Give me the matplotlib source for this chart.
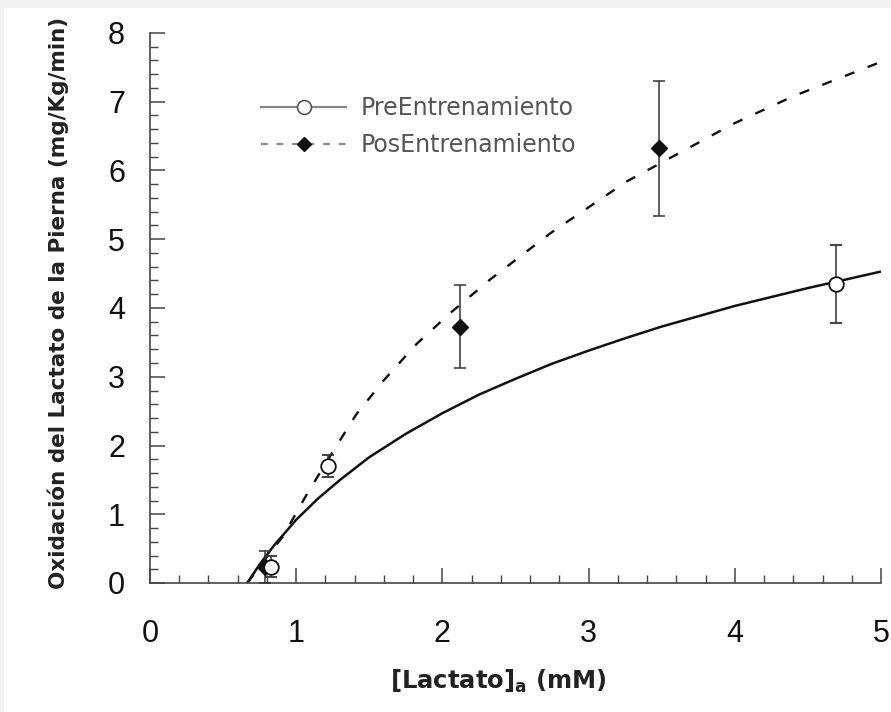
import matplotlib
matplotlib.use("Agg")
import matplotlib.pyplot as plt
from matplotlib.lines import Line2D
from matplotlib.patches import Rectangle
from matplotlib.ticker import MultipleLocator

# Measured points (mean ± error)
pre_x = [0.83, 1.22, 4.69]
pre_y = [0.24, 1.70, 4.35]
pre_err = [0.15, 0.16, 0.57]

pos_x = [0.79, 2.12, 3.48]
pos_y = [0.23, 3.73, 6.32]
pos_err = [0.23, 0.60, 0.98]

# Fitted curves
pre_fit_x = [0.665, 0.75, 0.85, 1.0, 1.15, 1.3, 1.5, 1.75, 2.0, 2.25, 2.5,
             2.75, 3.0, 3.25, 3.5, 3.75, 4.0, 4.25, 4.5, 4.75, 5.0]
pre_fit_y = [0.0, 0.27, 0.55, 0.92, 1.23, 1.50, 1.83, 2.17, 2.47, 2.74, 2.97,
             3.19, 3.38, 3.56, 3.73, 3.88, 4.03, 4.16, 4.29, 4.41, 4.53]

pos_fit_x = [0.665, 0.80, 0.91, 1.07, 1.23, 1.41, 1.60, 1.82, 2.05, 2.33,
             2.74, 3.26, 3.53, 3.99, 4.40, 5.0]
pos_fit_y = [0.0, 0.38, 0.68, 1.28, 1.84, 2.45, 2.95, 3.47, 3.92, 4.42,
             5.09, 5.84, 6.15, 6.68, 7.08, 7.58]

x_ticks = [0, 1, 2, 3, 4, 5]
y_ticks = [0, 1, 2, 3, 4, 5, 6, 7, 8]

series_labels = ["PreEntrenamiento", "PosEntrenamiento"]
x_label = r"[Lactato]$_{\mathbf{a}}$ (mM)"
y_label = "Oxidación del Lactato de la Pierna (mg/Kg/min)"

W, H, DPI = 891, 712, 100
fig = plt.figure(figsize=(W / DPI, H / DPI), dpi=DPI, facecolor="#f2f2f2")
fig.patches.append(Rectangle((4 / W, 0), 1 - 4 / W, 1 - 8 / H,
                             transform=fig.transFigure, facecolor="white",
                             edgecolor="none", zorder=-10))

ax = fig.add_axes([150 / W, (H - 583) / H, (881 - 150) / W, (583 - 33) / H])
ax.set_facecolor("none")

ink = "#111111"
ax.plot(pre_fit_x, pre_fit_y, color=ink, lw=1.8, solid_capstyle="butt", zorder=2)
ax.plot(pos_fit_x, pos_fit_y, color=ink, lw=1.7, linestyle=(0, (4.3, 6.0)),
        zorder=2)

ax.errorbar(pos_x, pos_y, yerr=pos_err, fmt="D", ms=8, mfc=ink, mec=ink,
            ecolor="#333333", elinewidth=1.1, capsize=4.5, capthick=1.1,
            zorder=3)
ax.errorbar(pre_x, pre_y, yerr=pre_err, fmt="o", ms=10.5, mfc="white",
            mec=ink, mew=1.3, ecolor="#333333", elinewidth=1.1, capsize=4.5,
            capthick=1.1, zorder=4)

ax.set_xlim(0, 5)
ax.set_ylim(0, 8)
ax.set_xticks(x_ticks)
ax.set_yticks(y_ticks)
ax.xaxis.set_minor_locator(MultipleLocator(0.2))
ax.yaxis.set_minor_locator(MultipleLocator(0.2))

for side in ("top", "right"):
    ax.spines[side].set_visible(False)
for side in ("left", "bottom"):
    ax.spines[side].set_color("#444444")
    ax.spines[side].set_linewidth(1.2)

ax.tick_params(which="major", direction="in", length=11, width=1.1,
               color="#444444", labelcolor="#111111")
ax.tick_params(which="minor", direction="in", length=5.5, width=1.0,
               color="#444444")
ax.tick_params(axis="x", which="major", pad=26)
ax.tick_params(axis="y", which="major", pad=18)
for lab in ax.get_xticklabels() + ax.get_yticklabels():
    lab.set_fontfamily("Liberation Sans")
    lab.set_fontsize(22)

fig.text(498 / W, 1 - 689 / H, x_label, ha="center", va="baseline",
         family="DejaVu Sans", weight="bold", size=17.5, color="#222222")
fig.text(58 / W, 1 - 303 / H, y_label, ha="center", va="center",
         rotation=90, family="DejaVu Sans", weight="bold", size=15.5,
         color="#222222")

handles = [
    Line2D([], [], color="#888888", lw=1.6, marker="o", ms=10, mfc="white",
           mec="#555555", mew=1.2),
    Line2D([], [], color="#888888", lw=1.6, linestyle=(0, (3, 4)),
           marker="D", ms=7, mfc="#111111", mec="#111111"),
]
leg = fig.legend(handles, series_labels, loc="upper left",
                 bbox_to_anchor=(261 / W, 1 - 96 / H), frameon=False,
                 borderpad=0, borderaxespad=0, handlelength=3.6,
                 handletextpad=0.6, labelspacing=0.55,
                 prop=dict(family="DejaVu Sans", size=17))
for t in leg.get_texts():
    t.set_color("#555555")

fig.savefig("out.png", dpi=DPI, facecolor=fig.get_facecolor())
